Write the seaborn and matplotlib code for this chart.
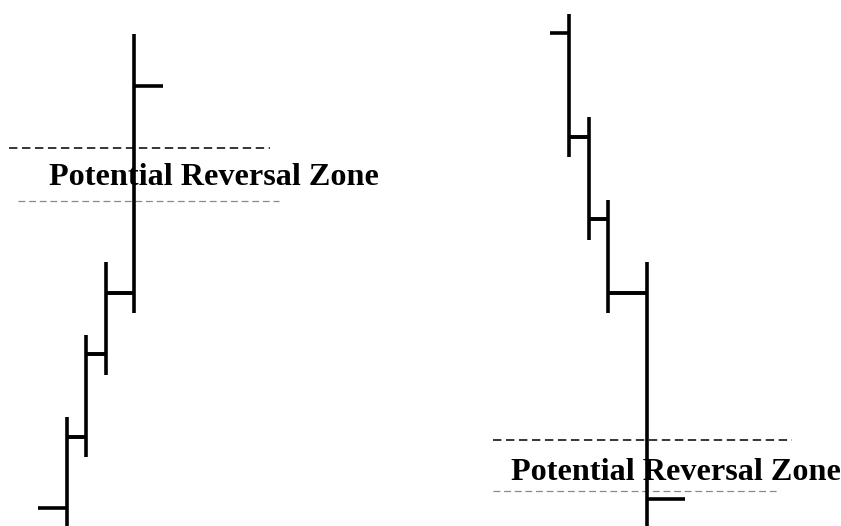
import matplotlib
matplotlib.use("Agg")
import matplotlib.pyplot as plt
import seaborn as sns
import pandas as pd

# ---- data (price units; x = bar time positions) ----
up_x = [67, 86, 106, 134]
up_high = [109, 191, 264, 492]
up_low = [-10, 69, 151, 213]
up_open = [18, 89, 172, 233]
up_close = [89, 172, 233, 440]

down_x = [569, 589, 608, 647]
down_high = [512, 409, 326, 264]
down_low = [369, 286, 213, -10]
down_open = [493, 389, 307, 233]
down_close = [389, 307, 233, 27]

zone_label = "Potential Reversal Zone"
zone_top = [378, 86]
zone_bottom = [325, 35]
zone_top_x = [(9, 270), (493, 792)]
zone_bottom_x = [(18, 279), (493, 780)]
label_pos = [(214, 341), (676, 46)]

# first open tick / last close tick lengths per group
edge_ticks = [(29, 29), (19, 38)]

sns.set_theme(style="white")
plt.rcParams["lines.solid_capstyle"] = "butt"

rows = []
seg = 0
groups = [(up_x, up_high, up_low, up_open, up_close),
          (down_x, down_high, down_low, down_open, down_close)]
for g, (xs, hi, lo, op, cl) in enumerate(groups):
    first_len, last_len = edge_ticks[g]
    n = len(xs)
    for i in range(n):
        x = xs[i]
        rows += [(seg, x, lo[i]), (seg, x, hi[i])]
        seg += 1
        x0 = xs[i - 1] if i > 0 else x - first_len
        rows += [(seg, x0, op[i]), (seg, x, op[i])]
        seg += 1
        x1 = xs[i + 1] if i < n - 1 else x + last_len
        rows += [(seg, x, cl[i]), (seg, x1, cl[i])]
        seg += 1
df = pd.DataFrame(rows, columns=["seg", "x", "price"])

fig = plt.figure(figsize=(8.41, 5.26), dpi=100)
ax = fig.add_axes([0, 0, 1, 1])

for k in range(2):
    ax.hlines(zone_top[k], *zone_top_x[k], colors="black", linewidth=1.1,
              linestyles=(0, (5.5, 3)))
    ax.hlines(zone_bottom[k], *zone_bottom_x[k], colors="#8a8a8a", linewidth=0.9,
              linestyles=(0, (5.5, 3)))
    ax.text(label_pos[k][0], label_pos[k][1], zone_label, ha="center", va="baseline",
            family="Liberation Serif", fontweight="bold", fontsize=23.2, color="black")

sns.lineplot(data=df, x="x", y="price", units="seg", estimator=None, sort=False,
             color="black", linewidth=2.6, ax=ax, legend=False)

ax.set_xlim(0, 841)
ax.set_ylim(0, 526)
ax.axis("off")
fig.savefig("out.png", dpi=100, facecolor="white")
